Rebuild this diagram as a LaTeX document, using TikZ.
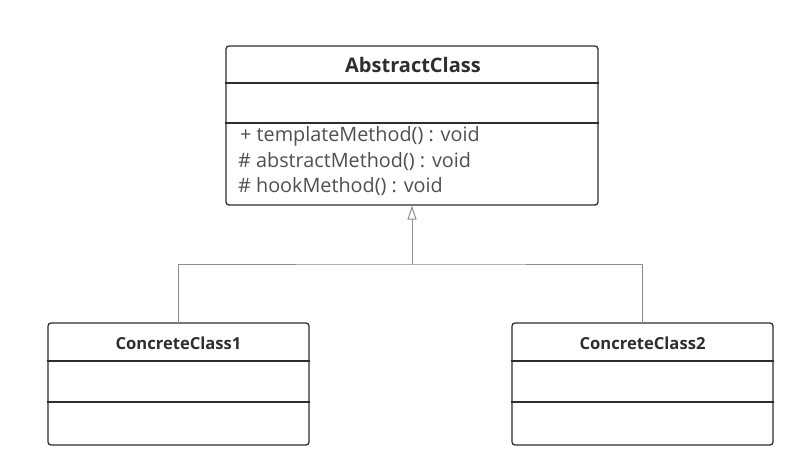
\documentclass[tikz,border=0pt]{standalone}
\usepackage{fontspec}
\setmainfont{Open Sans}
\usetikzlibrary{arrows.meta,positioning}
\definecolor{ink}{HTML}{2E2E2E}
\definecolor{ink2}{HTML}{505050}
\definecolor{wire}{HTML}{8C8C8C}
\tikzset{
  every picture/.style={line cap=round, line join=round},
  classbox/.style={draw=ink, fill=white, rounded corners=3pt, line width=1.3pt, inner sep=0pt},
  sep/.style={draw=ink, line width=1.3pt},
  cname/.style={font=\bfseries\fontsize{20}{24}\selectfont, text=ink, inner sep=0pt},
  subname/.style={font=\bfseries\fontsize{16.6}{20}\selectfont, text=ink, inner sep=0pt},
  member/.style={font=\fontsize{19.8}{24}\selectfont, text=ink2, anchor=west, inner sep=0pt},
  wire/.style={draw=wire, line width=1pt},
  inherit/.style={wire, -{Triangle[open, length=14pt, width=9pt, line width=1pt]}},
}

\begin{document}
\begin{tikzpicture}[x=1pt, y=-1pt]
  \useasboundingbox (0,0) rectangle (794,467);
  % ===================== abstract class =====================
  \node[classbox, minimum width=372pt, minimum height=159pt] (abs) at (412,125.5) {};
  \draw[sep] (abs.west |- 0,83) -- (abs.east |- 0,83);
  \draw[sep] (abs.west |- 0,123) -- (abs.east |- 0,123);
  \node[cname] (absname) at (413,65) {AbstractClass};
  \node[member] (m1) at (240,136.5) {+ templateMethod() : void};
  \node[member] (m2) at (238,161.5) {\# abstractMethod() : void};
  \node[member] (m3) at (238,186.5) {\# hookMethod() : void};

  % ===================== concrete classes =====================
  \node[classbox, minimum width=261pt, minimum height=122pt] (c1) at (178.5,384) {};
  \node[classbox, minimum width=261pt, minimum height=122pt] (c2) at (642.5,384) {};
  \foreach \c in {c1,c2}{
    \draw[sep] (\c.west |- 0,361) -- (\c.east |- 0,361);
    \draw[sep] (\c.west |- 0,402) -- (\c.east |- 0,402);}
  \node[subname] (c1name) at (178.5,343) {ConcreteClass1};
  \node[subname] (c2name) at (642.5,343) {ConcreteClass2};

  % ===================== generalisation =====================
  \coordinate (bus) at (412,264);
  \draw[wire] (c1.north) |- (bus) -| (c2.north);
  \draw[inherit] (bus) -- (abs.south);
\end{tikzpicture}
\end{document}
